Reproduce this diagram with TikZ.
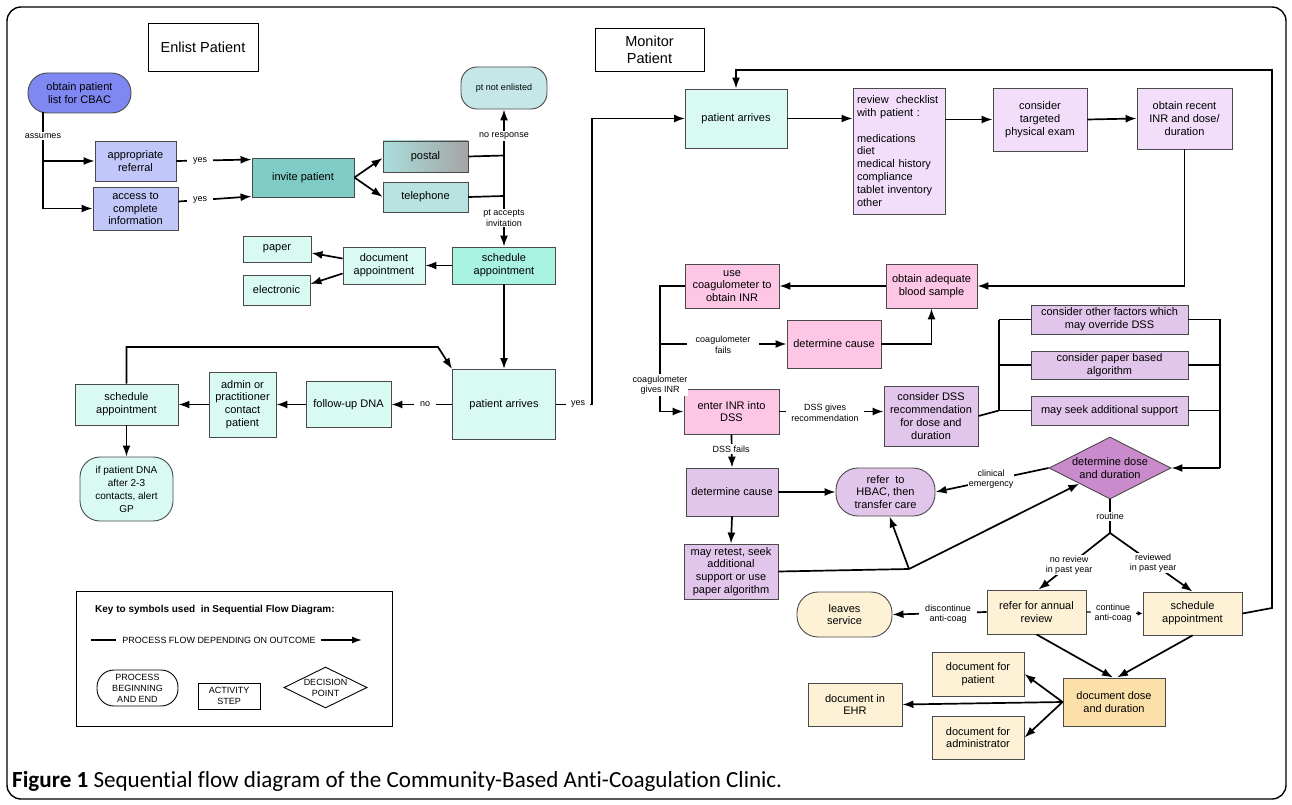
\documentclass[tikz,border=0pt]{standalone}
\usepackage{fontspec}
\usepackage{graphicx}
\setmainfont{Liberation Sans}
\newfontfamily\capfont[Ligatures={NoCommon,NoRare}]{Carlito}
\usetikzlibrary{arrows.meta,shapes.geometric,calc}
\definecolor{bord}{HTML}{4A4A4A}
\definecolor{cBlue}{HTML}{7F88F2}
\definecolor{cPeri}{HTML}{C2C7FA}
\definecolor{cTealD}{HTML}{7FCBC6}
\definecolor{cTealM}{HTML}{B8E3E1}
\definecolor{cTealA}{HTML}{A9DDDA}
\definecolor{cGray}{HTML}{A5A5A5}
\definecolor{cTealPt}{HTML}{C5E7E8}
\definecolor{cMint}{HTML}{A8F2E2}
\definecolor{cMintL}{HTML}{D8FAF3}
\definecolor{cLavL}{HTML}{F2DEFA}
\definecolor{cPink}{HTML}{FDC6E4}
\definecolor{cLav}{HTML}{E2C5EA}
\definecolor{cOrchid}{HTML}{C98BCB}
\definecolor{cCream}{HTML}{FDF2D6}
\definecolor{cCreamD}{HTML}{FCE0AA}
\begin{document}
\begin{tikzpicture}[x=1pt,y=-1pt,
  box/.style={draw=bord, line width=0.9pt, align=center, inner sep=1pt, font=\fontsize{11}{12.8}\selectfont},
  lbl/.style={fill=white, inner sep=1.2pt, align=center, font=\fontsize{9}{10.5}\selectfont},
  conn/.style={line width=1.7pt},
  arr/.style={conn, -{Latex[length=11pt,width=8pt]}},
  keytxt/.style={font=\fontsize{9}{11}\selectfont, align=center, inner sep=0pt}
]
\useasboundingbox (0,0) rectangle (1292,805);
\fill[white] (0,0) rectangle (1292,805);
\draw[line width=1.4pt, rounded corners=14pt] (7,7) rectangle (1286,799);

% titles
\node[box, draw=black, minimum width=110pt, minimum height=48pt, font=\fontsize{14.5}{17}\selectfont] (tEnlist) at (203,47) {Enlist Patient};
\node[box, draw=black, minimum width=109pt, minimum height=43pt, font=\fontsize{14.5}{17}\selectfont] (tMonitor) at (649.5,49.5) {Monitor\\Patient};

% ---------- Enlist section ----------
\node[box, fill=cBlue, rounded corners=19.5pt, minimum width=103pt, minimum height=40pt] (obtain) at (79.5,93) {obtain patient\\list for CBAC};
\node[box, fill=cPeri, minimum width=81pt, minimum height=40pt] (referral) at (135.5,161) {appropriate\\referral};
\node[box, fill=cPeri, minimum width=85pt, minimum height=43pt] (access) at (135.5,208.5) {access to\\complete\\information};
\node[box, fill=cTealD, minimum width=102pt, minimum height=39pt] (invite) at (303,177.5) {invite patient};
\node[box, left color=cTealA, right color=cGray, minimum width=85pt, minimum height=31pt] (postal) at (425.5,156.5) {postal};
\node[box, fill=cTealM, minimum width=85pt, minimum height=30pt] (telephone) at (425.5,197) {telephone};
\node[box, fill=cTealPt, rounded corners=16pt, minimum width=86pt, minimum height=42pt, font=\fontsize{9}{11}\selectfont] (ptnot) at (504,88) {pt not enlisted};
\node[box, fill=cMint, minimum width=103pt, minimum height=37pt] (sched1) at (504,265.5) {schedule\\appointment};
\node[box, fill=cMintL, minimum width=82pt, minimum height=37pt] (docappt) at (384,265.5) {document\\appointment};
\node[box, fill=cMintL, minimum width=68pt, minimum height=26pt] (paper) at (277,249) {paper};
\node[box, fill=cMintL, minimum width=67pt, minimum height=30pt] (electronic) at (276.5,290) {electronic};
\node[box, fill=cMintL, minimum width=103pt, minimum height=70pt] (pa1) at (504,404.5) {patient arrives};
\node[box, fill=cMintL, minimum width=85pt, minimum height=46pt] (followup) at (348.5,404.5) {follow-up DNA};
\node[box, fill=cMintL, minimum width=67pt, minimum height=65pt] (admin) at (242.5,404.5) {admin or\\practitioner\\contact\\patient};
\node[box, fill=cMintL, minimum width=103pt, minimum height=41pt] (schedL) at (126.5,404.5) {schedule\\appointment};
\node[box, fill=cMintL, rounded corners=20pt, minimum width=93pt, minimum height=64pt, font=\fontsize{10}{13}\selectfont] (ifdna) at (126.5,489) {if patient DNA\\after 2-3\\contacts, alert\\GP};

% Enlist connectors
\coordinate (aTop) at (43,112);
\coordinate (aMid) at (43,161);
\coordinate (aBot) at (43,208.5);
\draw[conn] (aTop) -- (aBot);
\draw[arr] (aMid) -- (referral.west);
\draw[arr] (aBot) -- (access.west);
\draw[arr] (referral.east) -- ($(invite.north west)+(0,2)$);
\draw[arr] ($(access.east)+(0,-7)$) -- ($(invite.south west)+(0,-1)$);
\draw[arr] (invite.east) -- ($(postal.west)+(0,1.5)$);
\draw[arr] (invite.east) -- (telephone.west);
\coordinate (j1) at (504,155.5);
\coordinate (j2) at (504,196);
\draw[conn] (postal.east) -- (j1);
\draw[conn] (telephone.east) -- (j2);
\draw[conn] (j1) -- (j2);
\draw[arr] (j1) -- (ptnot.south);
\draw[arr] (j2) -- (sched1.north);
\draw[arr] (sched1.west) -- (docappt.east);
\draw[arr] ($(docappt.west)+(0,-7)$) -- ($(paper.east)+(0,4)$);
\draw[arr] ($(docappt.west)+(0,8)$) -- ($(electronic.east)+(0,-6)$);
\draw[arr] (sched1.south) -- (pa1.north);
\draw[arr] (pa1.west) -- (followup.east);
\draw[arr] (followup.west) -- (admin.east);
\draw[arr] (admin.west) -- (schedL.east);
\draw[arr] (schedL.south) -- (ifdna.north);
\draw[arr] (schedL.north) -- (126.5,347) -- (438,347) -- (pa1.north west);
\draw[arr] (pa1.east) -- (592,404.5) -- (592,118.5) -- (685,118.5);

\node[lbl] (lAssumes) at (43,136) {assumes};
\node[lbl, inner xsep=6pt] (lYes1) at (200,160.7) {yes};
\node[lbl, inner xsep=6pt] (lYes2) at (200,199.8) {yes};
\node[lbl] (lNoResp) at (504,136) {no response};
\node[lbl] (lAccept) at (504,218) {pt accepts\\invitation};
\node[lbl, inner xsep=6pt] (lNo) at (425,404.5) {no};
\node[lbl, inner xsep=5pt] (lYes3) at (578,404.5) {yes};

% ---------- Monitor section ----------
\node[box, fill=cMintL, minimum width=102pt, minimum height=59pt] (pa2) at (736,118.5) {patient arrives};
\node[box, fill=cLavL, minimum width=92pt, minimum height=126pt, text width=84pt, align=left] (review) at (899,151) {review~ checklist\\with patient :\\[12.8pt]medications\\diet\\medical history\\compliance\\tablet inventory\\other};
\node[box, fill=cLavL, minimum width=94pt, minimum height=63pt] (targeted) at (1040,119.5) {consider\\targeted\\physical exam};
\node[box, fill=cLavL, minimum width=95pt, minimum height=61pt] (recent) at (1184.5,118.5) {obtain recent\\INR and dose/\\duration};
\node[box, fill=cPink, minimum width=94pt, minimum height=44pt] (usecoag) at (732,286) {use\\coagulometer to\\obtain INR};
\node[box, fill=cPink, minimum width=91pt, minimum height=44pt] (adequate) at (931.5,286) {obtain adequate\\blood sample};
\node[box, fill=cPink, minimum width=94pt, minimum height=48pt] (detpink) at (834,344) {determine cause};
\node[box, fill=cPink, minimum width=95pt, minimum height=45pt] (enter) at (731.5,411.5) {enter INR into\\DSS};
\node[box, fill=cLav, minimum width=94pt, minimum height=60pt] (considerDSS) at (931,416) {consider DSS\\recommendation\\for dose and\\duration};
\node[box, fill=cLav, minimum width=157pt, minimum height=29pt] (other) at (1109.5,319.5) {consider other factors which\\may override DSS};
\node[box, fill=cLav, minimum width=157pt, minimum height=28pt] (paperalg) at (1109.5,365) {consider paper based\\algorithm};
\node[box, fill=cLav, minimum width=157pt, minimum height=29pt] (seek) at (1109.5,410.5) {may seek additional support};
\node[diamond, draw=bord, line width=0.9pt, fill=cOrchid, minimum width=122pt, minimum height=62pt, inner sep=0pt,
  label={[font=\fontsize{11}{12.8}\selectfont, align=center]center:determine dose\\and duration}] (dd) at (1110,468) {};
\node[box, fill=cLav, minimum width=92pt, minimum height=48pt] (detlav) at (732,492) {determine cause};
\node[box, fill=cLav, rounded corners=22pt, minimum width=99pt, minimum height=48pt] (refer) at (885.5,492) {refer~ to\\HBAC, then\\transfer care};
\node[box, fill=cLav, minimum width=94pt, minimum height=55pt] (retest) at (731,571.5) {may retest, seek\\additional\\support or use\\paper algorithm};
\node[box, fill=cCream, minimum width=99pt, minimum height=44pt] (annual) at (1036.5,612) {refer for annual\\review};
\node[box, fill=cCream, minimum width=99pt, minimum height=43pt] (sched2) at (1192.5,613.5) {schedule\\appointment};
\node[box, fill=cCream, rounded corners=21pt, minimum width=95pt, minimum height=45pt] (leaves) at (844.5,614.5) {leaves\\service};
\node[box, fill=cCream, minimum width=92pt, minimum height=44pt] (docpat) at (978,674) {document for\\patient};
\node[box, fill=cCream, minimum width=94pt, minimum height=43pt] (ehr) at (855,704.5) {document in\\EHR};
\node[box, fill=cCream, minimum width=92pt, minimum height=43pt] (docadmin) at (978,737.5) {document for\\administrator};
\node[box, fill=cCreamD, minimum width=102pt, minimum height=48pt] (docdose) at (1114,702) {document dose\\and duration};

% Monitor connectors
\draw[arr] (pa2.east) -- (review.west |- pa2.east);
\draw[arr] (review.east |- targeted.west) -- (targeted.west);
\draw[arr] (targeted.east) -- (recent.west);
\draw[arr] (recent.south) -- (recent.south |- adequate.east) -- (adequate.east);
\draw[arr] (adequate.west) -- (usecoag.east);
\draw[arr] (usecoag.west) -- (660,286) -- (660,411.5) -- (enter.west);
\draw[arr] (660,344) -- (detpink.west);
\draw[arr] (detpink.east) -- (adequate.south |- detpink.east) -- (adequate.south);
\draw[arr] (enter.east) -- (considerDSS.west |- enter.east);
\draw[conn] (considerDSS.east) -- (999,410.5);
\draw[conn] (999,319.5) -- (999,410.5);
\draw[conn] (999,319.5) -- (other.west);
\draw[conn] (999,365) -- (paperalg.west);
\draw[conn] (999,410.5) -- (seek.west);
\draw[conn] (other.east) -- (1220,319.5) -- (1220,468);
\draw[conn] (paperalg.east) -- (1220,365);
\draw[conn] (seek.east) -- (1220,410.5);
\draw[arr] (1220,468) -- (dd.east);
\draw[arr] (enter.south) -- (detlav.north);
\draw[arr] (detlav.east) -- (refer.west);
\draw[arr] (detlav.south) -- (retest.north);
\coordinate (jr) at (909,569);
\draw[conn] (retest.east) -- (jr);
\draw[arr] (jr) -- ($(refer.south)+(4,0)$);
\draw[arr] (jr) -- (dd.south west);
\draw[arr] (dd.west) -- (refer.east);
\coordinate (jd) at (1110,533);
\draw[conn] (dd.south) -- (jd);
\draw[arr] (jd) -- ($(annual.north)+(2,0)$);
\draw[arr] (jd) -- (sched2.north);
\draw[line width=1.2pt, -{Latex[length=5pt,width=5pt]}] (annual.east) -- (sched2.west);
\draw[arr] (annual.west) -- (leaves.east);
\draw[arr] (sched2.east) -- (1272,608) -- (1272,70) -- (736,70) -- (pa2.north);
\draw[arr] (annual.south) -- ($(docdose.north)+(-1,0)$);
\draw[arr] (sched2.south) -- ($(docdose.north)+(3,0)$);
\draw[arr] (docdose.west) -- (docpat.east);
\draw[arr] (docdose.west) -- (ehr.east);
\draw[arr] (docdose.west) -- (docadmin.east);

\node[lbl, inner xsep=9pt] (lFails) at (723,345) {coagulometer\\fails};
\node[lbl] (lGives) at (660,385) {coagulometer\\gives INR};
\node[lbl, inner xsep=5pt] (lDSSgives) at (825,413) {DSS gives\\recommendation};
\node[lbl] (lDSSfails) at (731,449) {DSS fails};
\node[lbl] (lClin) at (991,479) {clinical\\emergency};
\node[lbl] (lRoutine) at (1110,516) {routine};
\node[lbl, inner sep=0.5pt] (lNoRev) at (1069,565) {no review\\in past year};
\node[lbl, inner sep=0.5pt] (lRev) at (1153,563) {reviewed\\in past year};
\node[lbl, inner xsep=4pt] (lCont) at (1113,613) {continue\\anti-coag};
\node[lbl, inner xsep=6pt] (lDisc) at (948,614) {discontinue\\anti-coag};

% ---------- Key ----------
\node[draw, line width=1pt, minimum width=316pt, minimum height=135pt, inner sep=0pt] (keybox) at (234,658.5) {};
\node[anchor=west, inner sep=0pt, font=\bfseries\fontsize{10}{12}\selectfont] (keytitle) at (95,610) {Key to symbols used~ in Sequential Flow Diagram:};
\node[keytxt] (keyflow) at (219,640) {PROCESS FLOW DEPENDING ON OUTCOME};
\coordinate (k1) at (91,640);
\coordinate (k4) at (362,640);
\draw[line width=1.5pt] (k1) -- ($(keyflow.west)+(-6,0)$);
\draw[line width=1.5pt, -{Latex[length=10pt,width=7pt]}] ($(keyflow.east)+(5,0)$) -- (k4);
\node[draw, line width=0.9pt, rounded corners=17pt, minimum width=81pt, minimum height=36pt, keytxt] (kproc) at (137.5,688) {PROCESS\\BEGINNING\\AND END};
\node[draw, line width=0.9pt, minimum width=62pt, minimum height=26pt, keytxt] (kact) at (229,696) {ACTIVITY\\STEP};
\node[diamond, draw, line width=0.9pt, minimum width=83pt, minimum height=41pt, inner sep=0pt,
  label={[keytxt]center:DECISION\\POINT}] (kdec) at (325.5,687.5) {};

% caption
\node[anchor=west, inner sep=0pt] (caption) at (12,781) {\resizebox{770pt}{!}{\capfont\textbf{Figure 1} Sequential flow diagram of the Community-Based Anti-Coagulation Clinic.}};
\end{tikzpicture}
\end{document}
